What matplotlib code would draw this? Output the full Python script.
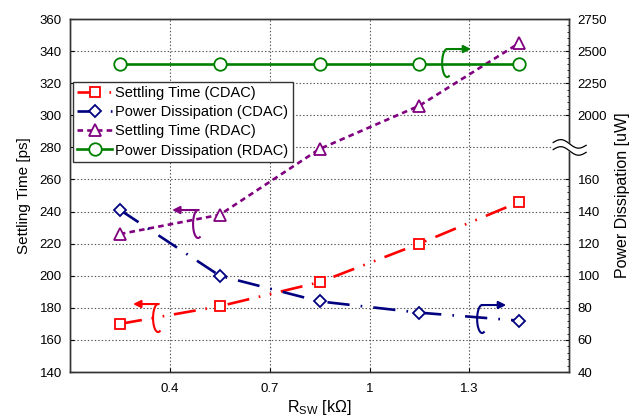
import numpy as np
import matplotlib
matplotlib.use('Agg')
import matplotlib.pyplot as plt
from matplotlib.ticker import FixedLocator, NullFormatter

plt.rcParams['font.family'] = ['Liberation Sans', 'DejaVu Sans']
plt.rcParams['lines.scale_dashes'] = False

# ---- data ----
rsw = [0.25, 0.55, 0.85, 1.15, 1.45]
st_cdac = [170, 181, 196, 220, 246]          # ps
pd_cdac = [141, 100, 84, 77, 72]             # uW
st_rdac = [226, 238, 279, 306, 345]          # ps
pd_rdac = [2400, 2400, 2400, 2400, 2400]     # uW

left_ticks = [140, 160, 180, 200, 220, 240, 260, 280, 300, 320, 340, 360]
right_ticks = [40, 60, 80, 100, 120, 140, 160, 2000, 2250, 2500, 2750]
x_ticks = [0.4, 0.7, 1.0, 1.3]
x_ticklabels = ['0.4', '0.7', '1', '1.3']

labels = ['Settling Time (CDAC)', 'Power Dissipation (CDAC)',
          'Settling Time (RDAC)', 'Power Dissipation (RDAC)']

# broken right-axis scale
def fwd(v):
    v = np.asarray(v, dtype=float)
    return np.where(v <= 160, v + 100,
                    np.where(v <= 1750, 260 + (v - 160) * (20.0 / 1590.0),
                             280 + (v - 1750) / 12.5))

def inv(y):
    y = np.asarray(y, dtype=float)
    return np.where(y <= 260, y - 100,
                    np.where(y <= 280, 160 + (y - 260) * (1590.0 / 20.0),
                             1750 + (y - 280) * 12.5))

fig = plt.figure(figsize=(6.31, 4.18), dpi=100)
ax = fig.add_axes([0.111, 0.110, 0.791, 0.8445])
ax.set_xlim(0.1, 1.6)
ax.set_ylim(140, 360)
ax2 = ax.twinx()
ax2.set_yscale('function', functions=(fwd, inv))
ax2.set_ylim(40, 2750)

red, blue, purple, green = '#ff0000', '#000080', '#800080', '#008000'
lw = 1.9

l1, = ax.plot(rsw, st_cdac, color=red, lw=lw, dashes=(16, 7, 1.2, 7, 1.2, 7),
              marker='s', ms=7, mfc='white', mec=red, mew=1.3, label=labels[0])
l3, = ax.plot(rsw, st_rdac, color=purple, lw=lw, dashes=(4, 3),
              marker='^', ms=9, mfc='white', mec=purple, mew=1.3, label=labels[2])
l2, = ax2.plot(rsw, pd_cdac, color=blue, lw=lw, dashes=(16, 8, 1.2, 8),
               marker='D', ms=6.5, mfc='white', mec=blue, mew=1.3, label=labels[1])
l4, = ax2.plot(rsw, pd_rdac, color=green, lw=lw, ls='-',
               marker='o', ms=9, mfc='white', mec=green, mew=1.3, label=labels[3])

# axes, ticks, grid
ax.set_xticks(x_ticks)
ax.set_xticklabels(x_ticklabels)
ax.set_yticks(left_ticks)
ax.grid(True, ls=(0, (1, 1.5)), color='#555555', lw=0.8)
ax.tick_params(axis='both', direction='in', length=3, labelsize=9.5, colors='black')
ax.tick_params(axis='y', pad=6)
ax.tick_params(axis='x', pad=8)
ax2.yaxis.set_major_locator(FixedLocator(right_ticks))
ax2.set_yticklabels([str(t) for t in right_ticks])
minor = list(np.arange(40, 161, 4)) + list(np.arange(2000, 2751, 50))
ax2.yaxis.set_minor_locator(FixedLocator(minor))
ax2.yaxis.set_minor_formatter(NullFormatter())
ax2.tick_params(axis='y', which='major', direction='in', length=3, labelsize=9.5, pad=6)
ax2.tick_params(axis='y', which='minor', direction='in', length=1.5)

for a in (ax, ax2):
    for s in a.spines.values():
        s.set_color('#333333')
        s.set_linewidth(1.0)

ax.set_ylabel('Settling Time [ps]', fontsize=11, labelpad=6)
ax2.set_ylabel('Power Dissipation [uW]', fontsize=11.5, labelpad=6)
ax.set_xlabel('R$_{\\mathregular{SW}}$ [k\u03a9]', fontsize=11.5, labelpad=2)

leg = ax2.legend(handles=[l1, l2, l3, l4], loc='upper left',
                 bbox_to_anchor=(0.006, 0.822), fontsize=10.5, frameon=True,
                 fancybox=False, edgecolor='#333333', framealpha=1,
                 handlelength=2.4, handletextpad=0.2, labelspacing=0.35,
                 borderpad=0.3, borderaxespad=0)
leg.get_frame().set_linewidth(1.0)

# ---- annotation arrows with "C"-shaped rings ----
def px2data(px, py):
    return 0.1 + (px - 70) * 1.5 / 499.0, 140 + (372 - py) * 220.0 / 353.0

def mark(cx, cy, tip_x, color):
    c = px2data(cx, cy)
    top = px2data(cx, cy - 14)
    tip = px2data(tip_x, cy - 14)
    a = 5 * 1.5 / 499.0
    b = 14 * 220.0 / 353.0
    t = np.radians(np.linspace(85, 290, 60))
    ax2.plot(c[0] + a * np.cos(t), c[1] + b * np.sin(t), color=color, lw=1.5,
             transform=ax.transData, zorder=5)
    ax2.annotate('', xy=tip, xytext=top, xycoords=ax.transData,
                 textcoords=ax.transData,
                 arrowprops=dict(arrowstyle='-|>', color=color, lw=1.5,
                                 mutation_scale=11, shrinkA=0, shrinkB=0),
                 zorder=5)

mark(158, 318, 133, red)
mark(198, 224, 172, purple)
mark(482, 319, 506, blue)
mark(447, 63, 471, green)

# ---- axis break symbol on the right axis ----
yb = (280 - 140) / 220.0
xs = np.linspace(0.968, 1.034, 60)
wave = 0.010 * np.sin((xs - 0.968) / 0.066 * 2 * np.pi) - (xs - 1.0) * 0.12
upper = yb + 0.010 + wave
lower = yb - 0.010 + wave
ax2.fill_between(xs, lower, upper, color='white', transform=ax.transAxes,
                 clip_on=False, zorder=10)
ax2.plot(xs, upper, color='black', lw=0.9, transform=ax.transAxes,
         clip_on=False, zorder=11)
ax2.plot(xs, lower, color='black', lw=0.9, transform=ax.transAxes,
         clip_on=False, zorder=11)

fig.savefig('out.png', dpi=100)
